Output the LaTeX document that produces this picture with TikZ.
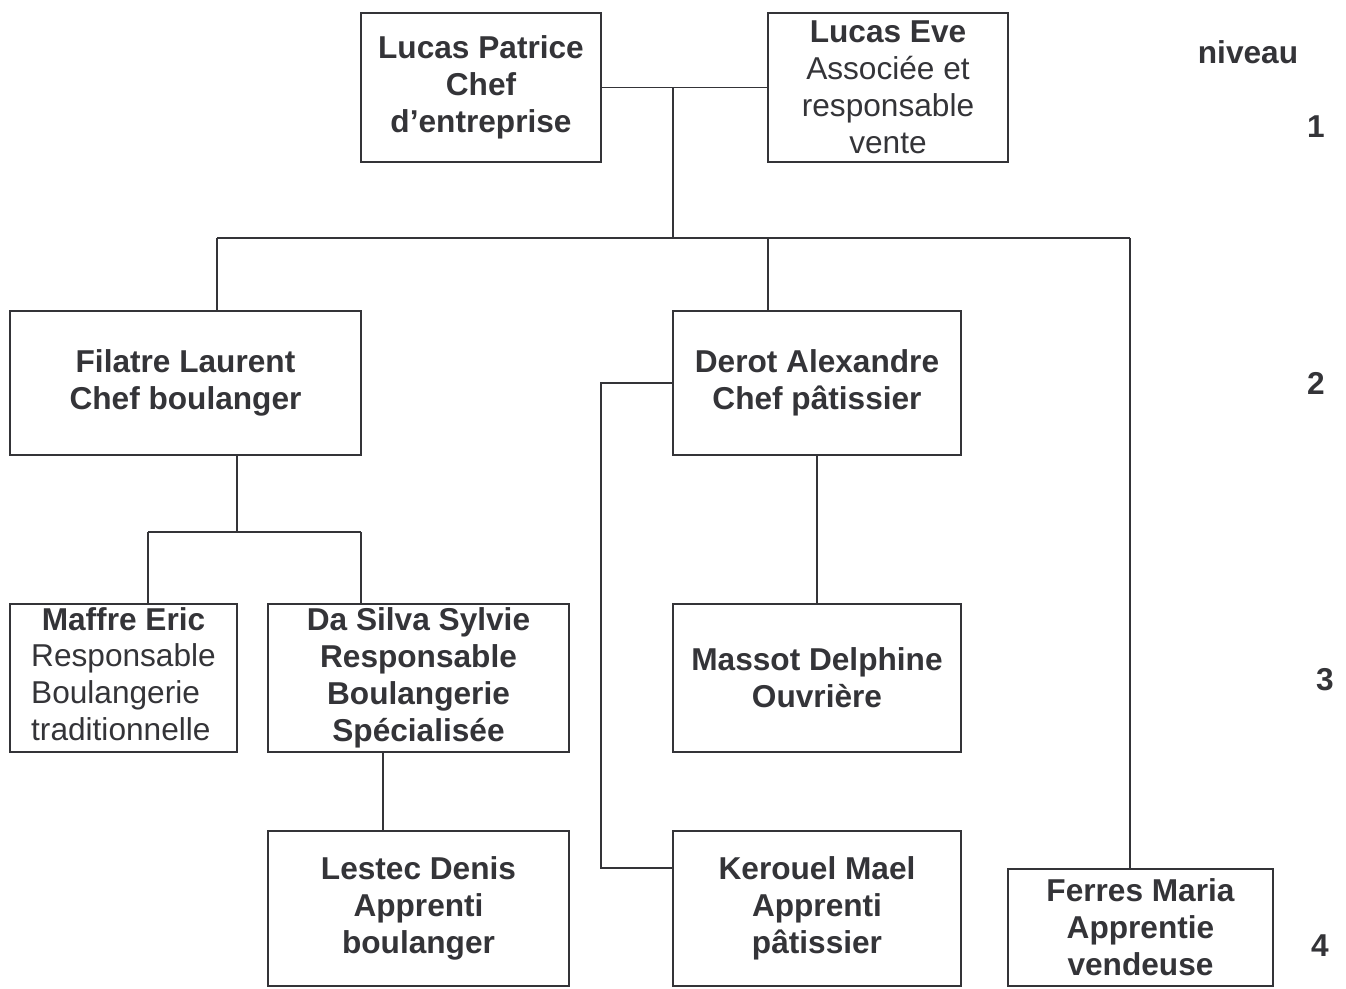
\documentclass[tikz,border=0pt]{standalone}
\usepackage{fontspec}
\setmainfont{Liberation Sans}
\definecolor{orgline}{RGB}{52,52,56}
\usetikzlibrary{calc}
\tikzset{
  poste/.style={draw=orgline, line width=1.1pt, text=orgline, align=center, inner sep=0pt, font=\fontsize{18}{21}\selectfont},
  lien/.style={draw=orgline, line width=1.1pt},
  niveau/.style={text=orgline, font=\fontsize{18}{21}\selectfont\bfseries}
}

\begin{document}
\begin{tikzpicture}[x=0.02cm, y=-0.02cm]
  \useasboundingbox (0,0) rectangle (1346,988);

  \begin{scope}[every node/.style={poste}]
    % niveau 1
    \node [minimum width=4.8cm, minimum height=2.98cm] (patrice) at (481,87.5) {\bfseries Lucas Patrice\\\bfseries Chef\\\bfseries d'entreprise};
    \node [minimum width=4.8cm, minimum height=2.98cm] (eve) at (888,87.5) {\bfseries Lucas Eve\\Associée et\\responsable\\vente};
    % niveau 2
    \node [minimum width=7.02cm, minimum height=2.88cm] (filatre) at (185.5,383) {\bfseries Filatre Laurent\\\bfseries Chef boulanger};
    \node [minimum width=5.76cm, minimum height=2.88cm] (derot) at (817,383) {\bfseries Derot Alexandre\\\bfseries Chef pâtissier};
    % niveau 3
    \node [minimum width=4.54cm, minimum height=2.96cm] (maffre) at (123.5,678) {\begin{tabular}{@{}l@{}}\multicolumn{1}{@{}c@{}}{\bfseries Maffre Eric}\\Responsable\\Boulangerie\\traditionnelle\end{tabular}};
    \node [minimum width=6.02cm, minimum height=2.96cm] (dasilva) at (418.5,678) {\bfseries Da Silva Sylvie\\\bfseries Responsable\\\bfseries Boulangerie\\\bfseries Spécialisée};
    \node [minimum width=5.76cm, minimum height=2.96cm] (massot) at (817,678) {\bfseries Massot Delphine\\\bfseries Ouvrière};
    % niveau 4
    \node [minimum width=6.02cm, minimum height=3.1cm] (lestec) at (418.5,908.5) {\bfseries Lestec Denis\\\bfseries Apprenti\\\bfseries boulanger};
    \node [minimum width=5.76cm, minimum height=3.1cm] (kerouel) at (817,908.5) {\bfseries Kerouel Mael\\\bfseries Apprenti\\\bfseries pâtissier};
    \node [minimum width=5.3cm, minimum height=2.34cm] (ferres) at (1140.5,927.5) {\bfseries Ferres Maria\\\bfseries Apprentie\\\bfseries vendeuse};
  \end{scope}

  \coordinate (tronc) at (673,87.5);
  \coordinate (bus) at (673,238);
  \coordinate (busG) at (217,238);
  \coordinate (busM) at (768,238);
  \coordinate (busD) at (1130,238);
  \coordinate (fourche) at (237,532);
  \coordinate (fourcheG) at (148,532);
  \coordinate (fourcheD) at (361,532);
  \coordinate (dsx) at (383,0);
  \coordinate (detour) at (601,868);

  \draw [lien] (patrice.east) -- (eve.west);
  \draw [lien] (tronc) -- (bus);
  \draw [lien] (busG) -- (busD);
  \draw [lien] (busG) -- (busG |- filatre.north);
  \draw [lien] (busM) -- (busM |- derot.north);
  \draw [lien] (busD) -- (busD |- ferres.north);

  \draw [lien] (fourche |- filatre.south) -- (fourche);
  \draw [lien] (fourcheG) -- (fourcheD);
  \draw [lien] (fourcheG) -- (fourcheG |- maffre.north);
  \draw [lien] (fourcheD) -- (fourcheD |- dasilva.north);
  \draw [lien] (dsx |- dasilva.south) -- (dsx |- lestec.north);

  \draw [lien] (derot.south) -- (massot.north);
  \draw [lien] (derot.west) -| (detour) -- (detour -| kerouel.west);

  \node [niveau] (niv) at (1248,52) {niveau};
  \node [niveau] (niv1) at (1316,127) {1};
  \node [niveau] (niv2) at (1316,383) {2};
  \node [niveau] (niv3) at (1325,680) {3};
  \node [niveau] (niv4) at (1320,946) {4};
\end{tikzpicture}
\end{document}
